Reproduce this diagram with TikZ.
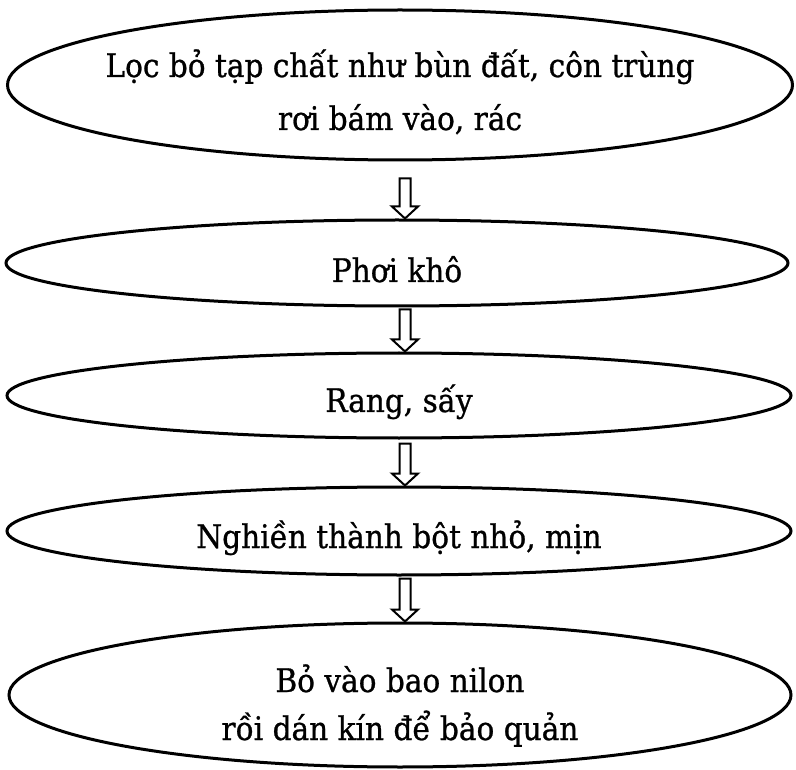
\documentclass[tikz,border=0pt]{standalone}
\usepackage{fontspec}
\setmainfont[FakeStretch=0.91,FakeBold=0.8]{DejaVu Serif}
\usetikzlibrary{shapes.geometric,calc}
% text of a stage: raised by #1, line pitch #2, lines separated by \cr
\newcommand{\stagetext}[3]{\raisebox{#1}[0pt][0pt]{\makebox[0pt]{\vtop{\baselineskip=#2\lineskiplimit=-100pt\halign{\hfil##\hfil\cr#3\cr}}}}}
% hollow block arrow from node #1 (tail gap #3) to node #2, on the axis coordinate
\newcommand{\flowarrow}[3]{%
  \path let \p1=(#1.south), \p2=(#2.north), \p3=(axis) in
    [blockarrow]
    (\x3-5.5pt,\y1-#3) -- (\x3-5.5pt,\y2+12pt) -- (\x3-13pt,\y2+12pt) -- (\x3,\y2)
    -- (\x3+13pt,\y2+12pt) -- (\x3+5.5pt,\y2+12pt) -- (\x3+5.5pt,\y1-#3) -- cycle;}
\begin{document}
\begin{tikzpicture}[x=1pt,y=-1pt,
  stage/.style={ellipse, draw, line width=3pt, inner sep=0pt,
    font=\fontsize{32.5}{50}\selectfont},
  blockarrow/.style={draw, fill=white, line width=2pt, line join=miter}]
\useasboundingbox (0,0) rectangle (796,770);
\coordinate (axis) at (405,0);
\node[stage, minimum width=785pt, minimum height=150pt] (e1) at (400,85)
  {\stagetext{8pt}{53pt}{Lọc bỏ tạp chất như bùn đất, côn trùng\cr rơi bám vào, rác}};
\node[stage, minimum width=782pt, minimum height=86pt] (e2) at (397,263)
  {\stagetext{-19pt}{50pt}{Phơi khô}};
\node[stage, minimum width=784pt, minimum height=85pt] (e3) at (399,395.5)
  {\stagetext{-16.5pt}{50pt}{Rang, sấy}};
\node[stage, minimum width=784pt, minimum height=88pt] (e4) at (399,531)
  {\stagetext{-17pt}{50pt}{Nghiền thành bột nhỏ, mịn}};
\node[stage, minimum width=782pt, minimum height=144pt] (e5) at (400,695)
  {\stagetext{3pt}{48pt}{Bỏ vào bao nilon\cr rồi dán kín để bảo quản}};
\flowarrow{e1}{e2}{17pt}
\flowarrow{e2}{e3}{2pt}
\flowarrow{e3}{e4}{4pt}
\flowarrow{e4}{e5}{2pt}
\end{tikzpicture}
\end{document}
